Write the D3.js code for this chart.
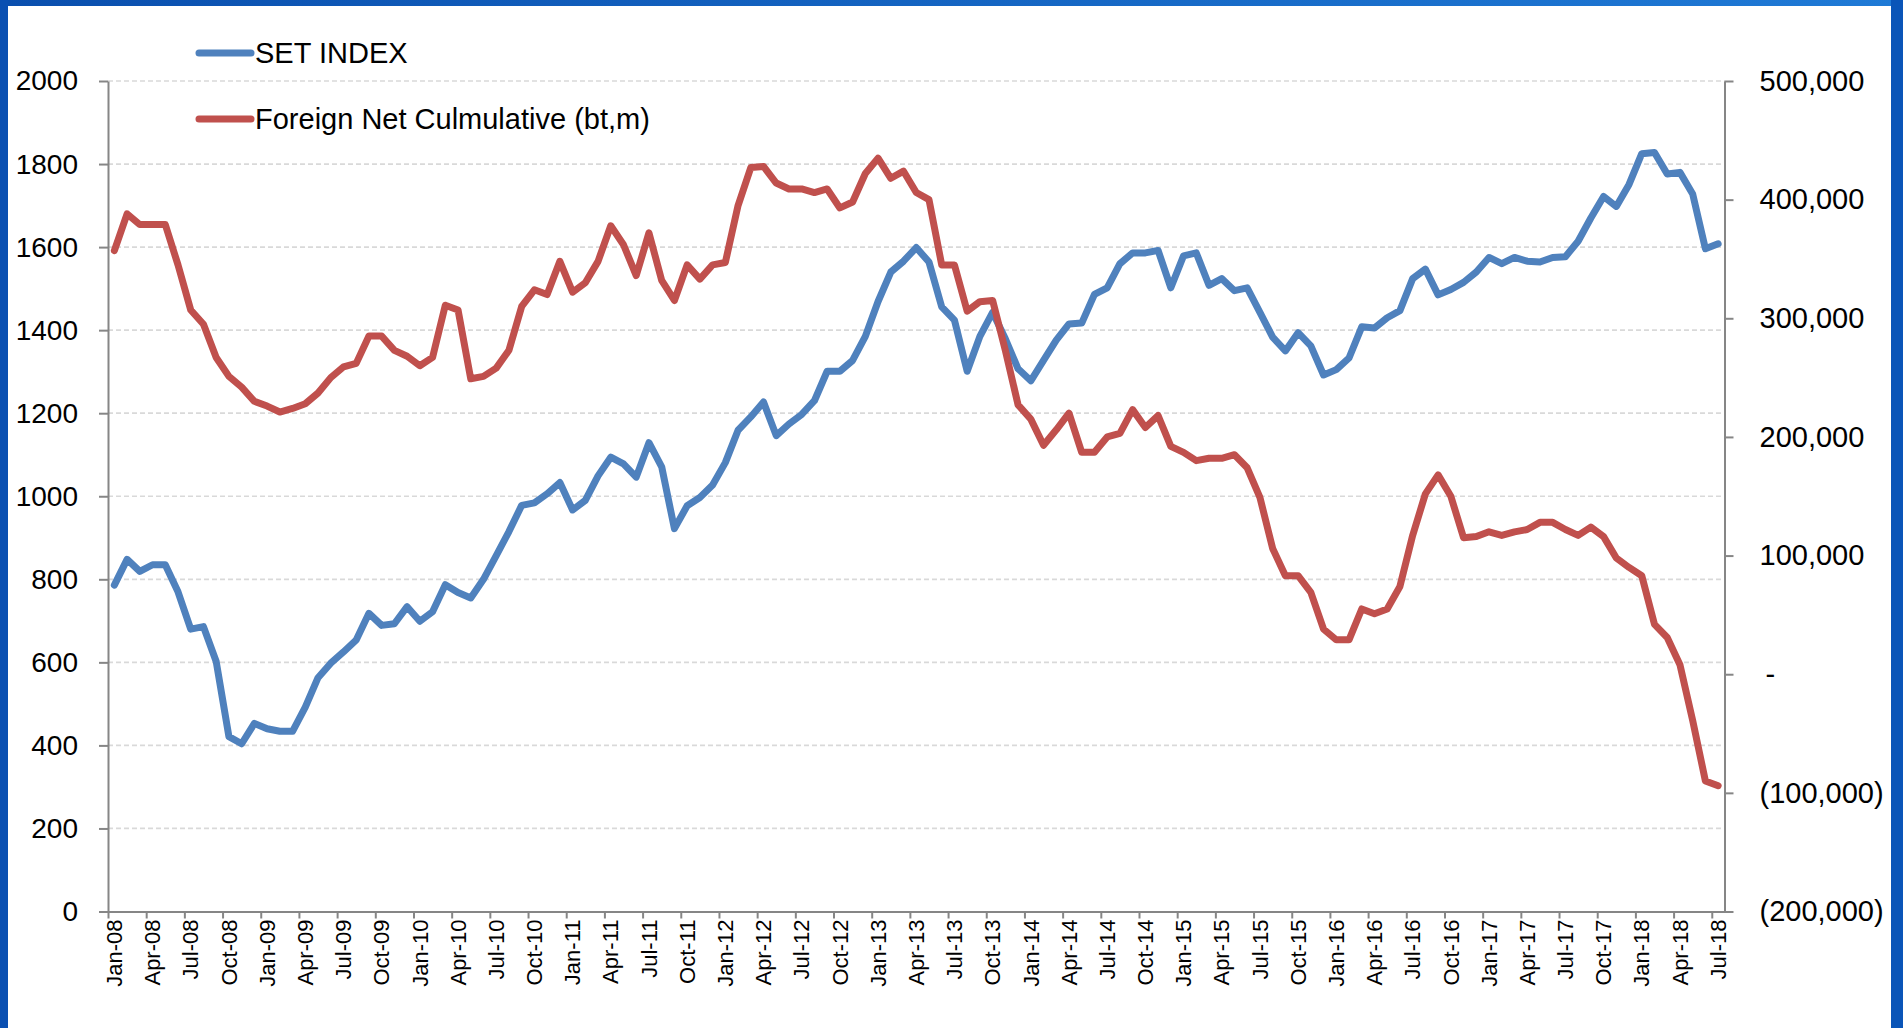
<html>
<head>
<meta charset="utf-8">
<script src="https://d3js.org/d3.v7.min.js"></script>
<style>
body { margin: 0; background: #fff; }
svg text { font-family: "Liberation Sans", Arial, sans-serif; fill: #000; }
.grid line { stroke: #d9d9d9; stroke-width: 1.7; stroke-dasharray: 5,3; }
.axis path, .axis line { stroke: #868686; stroke-width: 2; }
</style>
</head>
<body>
<svg id="chart" width="1903" height="1028"></svg>
<script>
// quarterly tick labels on the x axis
var tickLabels = ["Jan-08","Apr-08","Jul-08","Oct-08","Jan-09","Apr-09","Jul-09","Oct-09",
  "Jan-10","Apr-10","Jul-10","Oct-10","Jan-11","Apr-11","Jul-11","Oct-11",
  "Jan-12","Apr-12","Jul-12","Oct-12","Jan-13","Apr-13","Jul-13","Oct-13",
  "Jan-14","Apr-14","Jul-14","Oct-14","Jan-15","Apr-15","Jul-15","Oct-15",
  "Jan-16","Apr-16","Jul-16","Oct-16","Jan-17","Apr-17","Jul-17","Oct-17",
  "Jan-18","Apr-18","Jul-18"]

// monthly SET index, Jan-08 .. Jul-18
var setIndex = [786,848,819,835,835,770,680,686,602,421,404,453,440,434,434,492,563,598,625,654,718,689,693,734,699,722,787,768,755,800,857,915,978,
  984,1006,1033,967,990,1049,1094,1078,1046,1129,1071,922,977,997,1027,1081,1159,1191,1227,1146,1174,1197,1230,1301,1301,1327,1385,1469,1540,1566,1599,1564,
  1456,1424,1301,1385,1443,1379,1307,1278,1327,1376,1415,1417,1486,1502,1560,1586,1586,1592,1502,1579,1586,1508,1524,1495,1502,1443,1383,1350,1394,1362,1292,1305,
  1333,1408,1405,1430,1447,1524,1547,1485,1498,1515,1540,1575,1560,1575,1566,1564,1575,1577,1614,1670,1722,1698,1751,1825,1828,1776,1780,1728,1596,1608]

// foreign net cumulative, bt m, Jan-08 .. Jul-18
var foreignNet = [357000,388000,379000,379000,379000,345000,307000,295000,267000,251000,242000,230000,226000,221000,224000,228000,237000,250000,259000,262000,285000,285000,273000,268000,260000,267000,311000,307000,249000,251000,258000,273000,310000,
  324000,320000,348000,322000,330000,348000,378000,362000,336000,372000,332000,315000,345000,333000,345000,347000,395000,427000,428000,414000,409000,409000,406000,409000,393000,398000,422000,435000,418000,424000,406000,400000,
  345000,345000,306000,314000,315000,273000,227000,215000,193000,206000,220000,187000,187000,200000,203000,223000,208000,218000,192000,187000,180000,182000,182000,185000,174000,149000,106000,83000,83000,69000,38000,29000,
  29000,55000,51000,55000,74000,117000,152000,168000,150000,115000,116000,120000,117000,120000,122000,128000,128000,122000,117000,124000,116000,98000,90000,83000,42000,31000,8000,-39000,-90000,-94000]

var leftTicks = [0,200,400,600,800,1000,1200,1400,1600,1800,2000]
var rightTicks = [-200000,-100000,0,100000,200000,300000,400000,500000]

var svg = d3.select("#chart")

// blue frame
var defs = svg.append("defs")
var grad = defs.append("linearGradient").attr("id","topgrad").attr("x1","0").attr("x2","1")
grad.append("stop").attr("offset","0").attr("stop-color","#0a4fae")
grad.append("stop").attr("offset","1").attr("stop-color","#1f7ad6")
svg.append("rect").attr("x",0).attr("y",0).attr("width",1903).attr("height",1028).attr("fill","#fff")
svg.append("rect").attr("x",0).attr("y",0).attr("width",1903).attr("height",6).attr("fill","url(#topgrad)")
svg.append("rect").attr("x",0).attr("y",0).attr("width",8).attr("height",1028).attr("fill","#0a50b2")
svg.append("rect").attr("x",1891).attr("y",0).attr("width",12).attr("height",1028).attr("fill","#0a55b8")

var x = d3.scaleLinear().domain([0,127]).range([108,1724.5])
var y = d3.scaleLinear().domain([0,2000]).range([911.5,81])
var y2 = d3.scaleLinear().domain([-200000,500000]).range([911.5,81])

// gridlines
svg.append("g").attr("class","grid")
  .selectAll("line").data(leftTicks.slice(1)).enter()
  .append("line")
  .attr("x1",x(0)).attr("x2",x(127))
  .attr("y1",function(d){ return y(d) }).attr("y2",function(d){ return y(d) })

// left axis
var gl = svg.append("g").attr("class","axis")
  .attr("transform","translate("+x(0)+",0)")
  .call(d3.axisLeft(y).tickValues(leftTicks).tickSize(9).tickSizeOuter(0).tickPadding(21).tickFormat(d3.format("d")))
gl.selectAll("text").style("font-size","28px")

// right axis
function fmtRight(v) {
  if (v == 0) return "-"
  var s = d3.format(",")(Math.abs(v))
  return v < 0 ? "(" + s + ")" : s
}
var gr = svg.append("g").attr("class","axis")
  .attr("transform","translate("+x(127)+",0)")
  .call(d3.axisRight(y2).tickValues(rightTicks).tickSize(9).tickSizeOuter(0).tickPadding(26).tickFormat(fmtRight))
gr.selectAll("text").style("font-size","29px")
gr.selectAll("text").filter(function(d){ return d == 0 }).attr("dx", 6)

// bottom axis, ticks at quarter starts
var tickIdx = d3.range(0,127,3)
var gb = svg.append("g").attr("class","axis")
  .attr("transform","translate(0,"+y(0)+")")
  .call(d3.axisBottom(x).tickValues(tickIdx).tickSize(7).tickSizeOuter(0).tickFormat(""))

svg.append("g").selectAll("text").data(tickIdx).enter()
  .append("text")
  .attr("transform",function(d){ return "translate("+x(d+0.5)+","+(y(0)+8)+") rotate(-90)" })
  .attr("dy","0.35em")
  .style("text-anchor","end")
  .style("font-size","22px")
  .text(function(d,i){ return tickLabels[i] })

// lines
var lineLeft = d3.line().x(function(d,i){ return x(i+0.5) }).y(function(d){ return y(d) })
var lineRight = d3.line().x(function(d,i){ return x(i+0.5) }).y(function(d){ return y2(d) })

svg.append("path").datum(setIndex)
  .attr("d",lineLeft)
  .style("fill","none").style("stroke","#4f81bd").style("stroke-width",7)
  .style("stroke-linejoin","round").style("stroke-linecap","round")

svg.append("path").datum(foreignNet)
  .attr("d",lineRight)
  .style("fill","none").style("stroke","#c0504d").style("stroke-width",7)
  .style("stroke-linejoin","round").style("stroke-linecap","round")

// legend
var legend = [["SET INDEX","#4f81bd",53],["Foreign Net Culmulative (bt,m)","#c0504d",119]]
var lg = svg.append("g").selectAll("g").data(legend).enter().append("g")
lg.append("line")
  .attr("x1",199).attr("x2",251)
  .attr("y1",function(d){ return d[2] }).attr("y2",function(d){ return d[2] })
  .style("stroke",function(d){ return d[1] }).style("stroke-width",7).style("stroke-linecap","round")
lg.append("text")
  .attr("x",255).attr("y",function(d){ return d[2] })
  .attr("dy","0.35em")
  .style("font-size","29px")
  .text(function(d){ return d[0] })
</script>
</body>
</html>
